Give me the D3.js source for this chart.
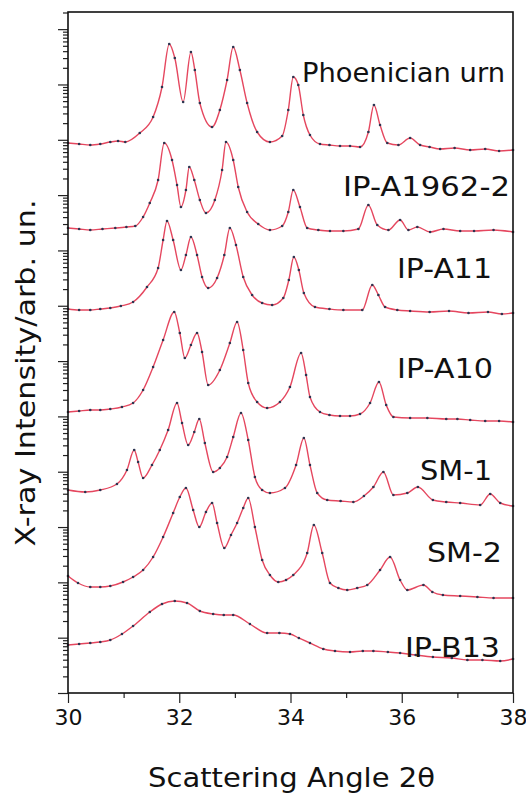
<!DOCTYPE html>
<html>
<head>
<meta charset="utf-8">
<script src="https://cdn.jsdelivr.net/npm/d3@7"></script>
<style>
  body { margin: 0; background: #fff; }
  text { font-family: "Comic Sans MS", "DejaVu Sans", sans-serif; fill: #111; }
</style>
</head>
<body>
<svg id="chart" width="526" height="794"></svg>
<script>
// sample names, top to bottom
const samples = ["Phoenician urn", "IP-A1962-2", "IP-A11", "IP-A10", "SM-1", "SM-2", "IP-B13"];
// vertical offset of each pattern (arb. un.)
const offsets = [543, 461, 380, 271, 187, 95, 33];

// [2theta, intensity above own baseline]
const urn = [[30.00,7],[30.20,6],[30.40,5],[30.58,6],[30.76,8],[30.90,9],[31.03,8],[31.29,17],[31.53,33],[31.69,63],[31.82,106],[31.92,92],[32.07,48],[32.21,98],[32.28,80],[32.37,47],[32.59,23],[32.73,40],[32.86,70],[32.97,103],[33.09,80],[33.22,47],[33.40,18],[33.63,8],[33.85,14],[33.96,40],[34.05,73],[34.14,65],[34.23,35],[34.35,15],[34.53,6],[34.70,5],[34.89,4],[35.07,4],[35.25,3],[35.40,18],[35.50,45],[35.61,25],[35.74,7],[35.94,5],[36.15,12],[36.33,5],[36.50,3],[36.69,1],[36.95,2],[37.23,0],[37.50,1],[37.75,-1],[38.00,0]];
const a1962 = [[30.00,4],[30.20,3],[30.40,2],[30.62,3],[30.85,4],[31.05,5],[31.21,6],[31.35,15],[31.47,29],[31.62,52],[31.73,89],[31.87,72],[31.96,47],[32.03,25],[32.12,42],[32.18,65],[32.27,52],[32.37,32],[32.48,19],[32.64,32],[32.77,62],[32.84,90],[32.97,72],[33.06,45],[33.22,20],[33.42,8],[33.63,2],[33.85,6],[33.96,20],[34.05,42],[34.17,25],[34.30,4],[34.50,2],[34.71,1],[34.95,1],[35.22,3],[35.40,27],[35.56,7],[35.76,2],[35.97,12],[36.12,2],[36.28,5],[36.51,0],[36.75,3],[37.05,1],[37.30,1],[37.65,2],[38.00,0]];
const a11 = [[30.00,4],[30.20,3],[30.40,3],[30.58,4],[30.76,5],[30.95,7],[31.17,11],[31.42,26],[31.62,45],[31.71,73],[31.78,92],[31.89,73],[32.03,43],[32.12,58],[32.21,76],[32.32,58],[32.41,36],[32.52,25],[32.68,35],[32.81,58],[32.91,85],[33.02,68],[33.15,36],[33.31,18],[33.49,10],[33.67,8],[33.87,15],[33.97,33],[34.06,56],[34.15,43],[34.24,20],[34.44,6],[34.70,4],[34.95,3],[35.29,3],[35.47,28],[35.58,18],[35.70,6],[35.92,3],[36.15,2],[36.50,1],[36.85,2],[37.20,0],[37.55,1],[37.80,-1],[38.00,0]];
const a10 = [[30.00,10],[30.20,11],[30.40,12],[30.58,12],[30.76,13],[30.97,15],[31.17,19],[31.35,32],[31.53,55],[31.71,82],[31.91,110],[32.01,89],[32.10,64],[32.21,77],[32.32,89],[32.41,70],[32.52,37],[32.73,52],[32.91,79],[33.04,100],[33.15,72],[33.24,39],[33.40,20],[33.58,14],[33.81,20],[33.99,35],[34.19,69],[34.28,47],[34.35,25],[34.53,10],[34.70,7],[34.89,6],[35.07,6],[35.25,8],[35.43,19],[35.59,40],[35.72,17],[35.85,5],[36.15,4],[36.46,4],[36.80,3],[37.00,3],[37.23,2],[37.50,1],[37.75,1],[38.00,0]];
const sm1 = [[30.00,16],[30.31,14],[30.58,16],[30.88,22],[31.06,36],[31.19,56],[31.26,44],[31.35,28],[31.51,41],[31.65,56],[31.80,76],[31.96,103],[32.05,83],[32.16,61],[32.27,74],[32.36,87],[32.46,63],[32.61,34],[32.73,38],[32.86,49],[32.97,69],[33.11,93],[33.24,66],[33.36,29],[33.49,16],[33.63,13],[33.90,18],[34.10,41],[34.24,68],[34.35,41],[34.48,13],[34.66,6],[34.90,5],[35.13,4],[35.32,10],[35.49,19],[35.67,34],[35.85,11],[36.10,13],[36.29,19],[36.56,6],[36.80,4],[37.05,3],[37.41,1],[37.59,12],[37.77,3],[38.00,0]];
const sm2 = [[30.00,22],[30.18,15],[30.40,11],[30.58,11],[30.76,12],[30.99,16],[31.17,21],[31.35,28],[31.53,41],[31.71,61],[31.89,85],[32.01,101],[32.12,110],[32.25,88],[32.36,71],[32.48,86],[32.59,95],[32.68,75],[32.81,50],[32.93,63],[33.04,75],[33.15,90],[33.24,100],[33.36,71],[33.49,38],[33.63,23],[33.78,16],[33.92,18],[34.05,23],[34.30,45],[34.42,73],[34.57,45],[34.71,15],[34.86,10],[35.02,8],[35.20,10],[35.38,13],[35.61,28],[35.79,41],[35.97,18],[36.10,8],[36.39,13],[36.55,6],[36.74,3],[37.05,2],[37.36,1],[37.65,0],[38.00,0]];
const b13 = [[30.00,15],[30.20,16],[30.40,17],[30.58,18],[30.76,20],[30.97,26],[31.17,34],[31.47,48],[31.69,56],[31.92,59],[32.14,57],[32.37,49],[32.61,46],[32.80,45],[32.97,45],[33.27,36],[33.58,27],[33.80,27],[33.99,26],[34.15,22],[34.35,17],[34.59,11],[34.80,9],[35.07,8],[35.30,9],[35.49,9],[35.75,8],[35.97,7],[36.25,5],[36.56,3],[36.90,2],[37.18,0],[37.45,0],[37.77,-1],[38.00,1]];
const series = [urn, a1962, a11, a10, sm1, sm2, b13];

const xMajor = [30, 32, 34, 36, 38];
const xMinor = [31, 33, 35, 37];
const decades = 12.31;   // log span of the intensity axis

// label layout: right edge in px, baseline (arb. un.), text width
const labelRight = [505, 510, 492, 493, 492, 502, 500];
const labelBase = [611, 497, 415, 315, 213, 131, 36];
const labelWidth = [203, 167, 95, 96, 72, 75, 95];

const svg = d3.select("#chart");
const pLeft = 68, pRight = 513, pTop = 12, pBottom = 693;

const x = d3.scaleLinear().domain([30, 38]).range([pLeft, pRight]);
const y = d3.scaleLinear().domain([0, pBottom - pTop]).range([pBottom, pTop]);
const yLog = d3.scaleLog().domain([1, Math.pow(10, decades)]).range([pBottom, pTop]);

// log ticks
const yMajor = [], yMinor = [];
for (let k = 0; k <= 12; k++) {
  for (let m = 1; m <= 9; m++) {
    const v = m * Math.pow(10, k);
    if (v > Math.pow(10, decades)) continue;
    (m === 1 ? yMajor : yMinor).push(v);
  }
}

const line = d3.line()
  .x(d => x(d[0]))
  .y(d => y(d[1]))
  .curve(d3.curveMonotoneX);

series.forEach((s, i) => {
  const pts = s.map(d => [d[0], d[1] + offsets[i]]);
  svg.append("path")
    .datum(pts)
    .attr("fill", "none")
    .attr("stroke", "#e5475f")
    .attr("stroke-width", 1.4)
    .attr("d", line);
  svg.append("g").selectAll("circle")
    .data(pts)
    .join("circle")
    .attr("cx", d => x(d[0]))
    .attr("cy", d => y(d[1]))
    .attr("r", 1.3)
    .attr("fill", "#2c3450");
});

// axes
const gx = svg.append("g").attr("transform", `translate(0,${pBottom})`);
gx.call(d3.axisBottom(x).tickValues(xMajor).tickSize(10).tickPadding(6).tickFormat(d3.format("d")));
gx.append("g").call(d3.axisBottom(x).tickValues(xMinor).tickSize(5).tickFormat(""));
gx.selectAll(".domain").remove();
gx.selectAll("text").attr("font-size", 22).attr("font-family", "\"Comic Sans MS\", \"DejaVu Sans\", sans-serif").attr("fill", "#222");

const gy = svg.append("g").attr("transform", `translate(${pLeft},0)`);
gy.call(d3.axisLeft(yLog).tickValues(yMajor).tickSize(10).tickFormat(""));
gy.append("g").call(d3.axisLeft(yLog).tickValues(yMinor).tickSize(5).tickFormat(""));
gy.selectAll(".domain").remove();
svg.selectAll(".tick line").attr("stroke", "#222").attr("stroke-width", 1.2);

// frame
svg.append("rect")
  .attr("x", pLeft).attr("y", pTop)
  .attr("width", pRight - pLeft).attr("height", pBottom - pTop)
  .attr("fill", "none").attr("stroke", "#111").attr("stroke-width", 1.6);

// sample labels
svg.append("g").selectAll("text")
  .data(samples)
  .join("text")
  .attr("x", (d, i) => labelRight[i])
  .attr("y", (d, i) => y(labelBase[i]))
  .attr("text-anchor", "end")
  .attr("font-size", 26)
  .attr("textLength", (d, i) => labelWidth[i])
  .attr("lengthAdjust", "spacingAndGlyphs")
  .text(d => d);

// axis titles
svg.append("text")
  .attr("x", (pLeft + pRight) / 2 + 1).attr("y", 787)
  .attr("text-anchor", "middle")
  .attr("font-size", 27)
  .attr("textLength", 287)
  .attr("lengthAdjust", "spacingAndGlyphs")
  .text("Scattering Angle 2θ");

svg.append("text")
  .attr("transform", "translate(35,373) rotate(-90)")
  .attr("text-anchor", "middle")
  .attr("font-size", 27)
  .attr("textLength", 347)
  .attr("lengthAdjust", "spacingAndGlyphs")
  .text("X-ray Intensity/arb. un.");
</script>
</body>
</html>
